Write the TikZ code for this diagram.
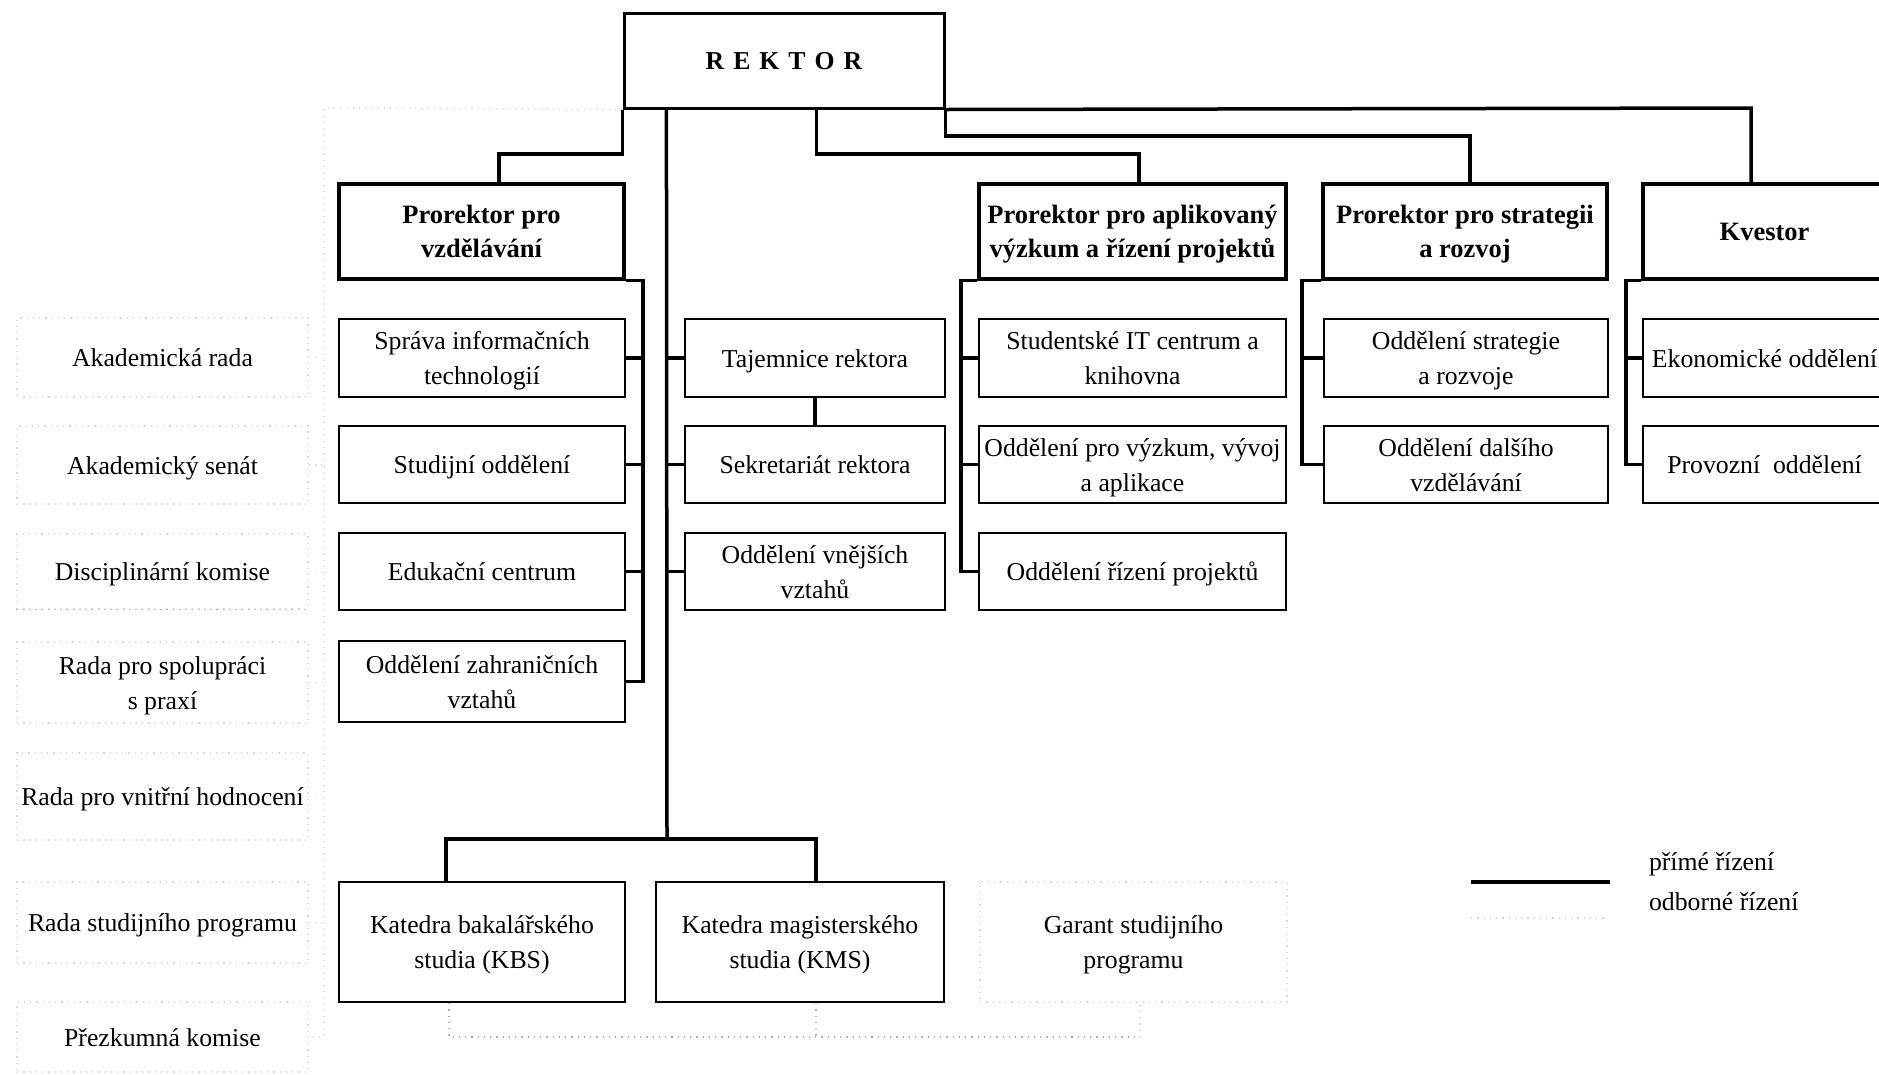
\documentclass[tikz,border=0pt]{standalone}
\usepackage{fontspec}
\setmainfont{Liberation Serif}
\usetikzlibrary{calc}
\newcommand\mybox[7]{\node[#1, minimum width={(#5-#3)*0.4pt}, minimum height={(#6-#4)*0.4pt}] (#2) at ({(#3+#5)/2},{(#4+#6)/2}) {\rule{0pt}{9.8pt}#7\rule[-2.3pt]{0pt}{2.3pt}};}
\begin{document}
\begin{tikzpicture}[x=0.4pt,y=-0.4pt,
  every node/.style={font=\fontsize{10.3}{14}\selectfont, align=center, inner sep=1pt},
  topbox/.style={draw, line width=1.2pt, font=\fontsize{10.3}{13}\selectfont\bfseries},
  headbox/.style={draw, line width=1.3pt, font=\fontsize{10.6}{13.6}\selectfont\bfseries},
  subbox/.style={draw, line width=0.8pt},
  advbox/.style={draw=gray!30, dotted, line width=0.5pt},
  direct/.style={line width=1.4pt},
  prof/.style={draw=gray!35, dotted, line width=0.5pt},
  profmid/.style={draw=gray!60, dotted, line width=0.5pt},
]
\useasboundingbox (0,0) rectangle (1879,1074);
\fill[white] (0,0) rectangle (1879,1074);
\clip (0,0) rectangle (1879,1074);

% top level
\mybox{topbox}{rektor}{624}{13}{944}{108}{R\kern3.6pt E\kern3.6pt K\kern3.6pt T\kern3.6pt O\kern3.6pt R}
\mybox{headbox}{pv}{339}{184}{624}{279}{Prorektor pro\\vzdělávání}
\mybox{headbox}{pa}{979}{184}{1286}{279}{Prorektor pro aplikovaný\\výzkum a řízení projektů}
\mybox{headbox}{ps}{1323}{184}{1607}{279}{Prorektor pro strategii\\a rozvoj}
\mybox{headbox}{kv}{1643}{184}{1886}{279}{Kvestor}

% column 1
\mybox{subbox}{a1}{339}{319}{625}{397}{Správa informačních\\technologií}
\mybox{subbox}{a2}{339}{426}{625}{503}{Studijní oddělení}
\mybox{subbox}{a3}{339}{533}{625}{610}{Edukační centrum}
\mybox{subbox}{a4}{339}{641}{625}{722}{Oddělení zahraničních\\vztahů}
% column 2
\mybox{subbox}{b1}{685}{319}{945}{397}{Tajemnice rektora}
\mybox{subbox}{b2}{685}{426}{945}{503}{Sekretariát rektora}
\mybox{subbox}{b3}{685}{533}{945}{610}{Oddělení vnějších\\vztahů}
% column 3
\mybox{subbox}{c1}{979}{319}{1286}{397}{Studentské IT centrum a\\knihovna}
\mybox{subbox}{c2}{979}{426}{1286}{503}{Oddělení pro výzkum, vývoj\\a aplikace}
\mybox{subbox}{c3}{979}{533}{1286}{610}{Oddělení řízení projektů}
% column 4
\mybox{subbox}{d1}{1324}{319}{1608}{397}{Oddělení strategie\\a rozvoje}
\mybox{subbox}{d2}{1324}{426}{1608}{503}{Oddělení dalšího\\vzdělávání}
% column 5
\mybox{subbox}{e1}{1643}{319}{1886}{397}{Ekonomické oddělení}
\mybox{subbox}{e2}{1643}{426}{1886}{503}{Provozní\ \ oddělení}
% bottom
\mybox{subbox}{k1}{339}{882}{625}{1002}{Katedra bakalářského\\studia (KBS)}
\mybox{subbox}{k2}{656}{882}{944}{1002}{Katedra magisterského\\studia (KMS)}
\mybox{advbox}{g}{980}{882}{1287}{1002}{Garant studijního\\programu}
% left advisory bodies
\mybox{advbox}{l1}{17}{318}{308}{397}{Akademická rada}
\mybox{advbox}{l2}{17}{426}{308}{504}{Akademický senát}
\mybox{advbox}{l3}{17}{534}{308}{609}{Disciplinární komise}
\mybox{advbox}{l4}{17}{642}{308}{723}{Rada pro spolupráci\\s praxí}
\mybox{advbox}{l5}{17}{753}{308}{840}{Rada pro vnitřní hodnocení}
\mybox{advbox}{l6}{17}{882}{308}{963}{Rada studijního programu}
\mybox{advbox}{l7}{17}{1002}{308}{1072}{Přezkumná komise}
\draw[profmid] (l3.south west) -- (l3.south east);

% direct connectors from rektor
\coordinate (j1) at (499,154);
\draw[direct] (rektor.south west) |- (j1) -- (j1 |- pv.north);
\coordinate (r2) at ($(rektor.south west)!0.6!(rektor.south east)$);
\coordinate (j2) at (1139,154);
\draw[direct] (r2) |- (j2) -- (j2 |- pa.north);
\coordinate (j3) at (1470,136);
\draw[direct] (rektor.south east) |- (j3) -- (j3 |- ps.north);
\coordinate (j4) at (1751,108);
\draw[direct] (rektor.south east) -- (j4) -- (j4 |- kv.north);

% spine
\coordinate (s0) at ($(rektor.south west)!0.136!(rektor.south east)$);
\coordinate (s1) at (667,839);
\draw[direct] (s0) -- (s1);
\coordinate (kbsx) at (446,839);
\coordinate (kmsx) at (816,839);
\draw[direct] (kbsx |- k1.north) -- (kbsx) -- (kmsx) -- (kmsx |- k2.north);
\foreach \n in {b1,b2,b3} \draw[direct] (\n.west) -- (\n.west -| s0);
\draw[direct] (b1.south) -- (b2.north);

% buses
\coordinate (pvb) at (643,279);
\draw[direct] (pv.south east) -| (pvb |- a4.east) -- (a4.east);
\foreach \n in {a1,a2,a3} \draw[direct] (\n.east) -- (\n.east -| pvb);
\coordinate (pab) at (961,279);
\draw[direct] (pa.south west) -| (pab |- c3.west) -- (c3.west);
\foreach \n in {c1,c2} \draw[direct] (\n.west) -- (\n.west -| pab);
\coordinate (psb) at (1302,279);
\draw[direct] (ps.south west) -| (psb |- d2.west) -- (d2.west);
\draw[direct] (d1.west) -- (d1.west -| psb);
\coordinate (kvb) at (1626,279);
\draw[direct] (kv.south west) -| (kvb |- e2.west) -- (e2.west);
\draw[direct] (e1.west) -- (e1.west -| kvb);

% professional (dotted) connectors
\coordinate (px) at (324,108);
\draw[prof] (rektor.south west) -- (px) -- (px |- l7.east) -- (l7.east);
\foreach \n in {l1,l2,l3,l4,l5,l6} \draw[prof] (\n.east) -- (\n.east -| px);
\coordinate (q1) at (449,1037);
\coordinate (q2) at (816,1037);
\coordinate (q3) at (1140,1037);
\draw[profmid] (q1 |- k1.south) -- (q1) -- (q3);
\draw[prof] (q3) -- (q3 |- g.south);
\draw[profmid] (q2 |- k2.south) -- (q2);

% legend
\coordinate (lg1) at (1471,882);
\coordinate (lg2) at (1610,882);
\draw[direct] (lg1) -- (lg2);
\coordinate (lg3) at (1471,918);
\coordinate (lg4) at (1608,918);
\draw[prof] (lg3) -- (lg4);
\node[anchor=west] (t1) at (1646,864) {přímé řízení};
\node[anchor=west] (t2) at (1646,902) {odborné řízení};
\end{tikzpicture}
\end{document}
